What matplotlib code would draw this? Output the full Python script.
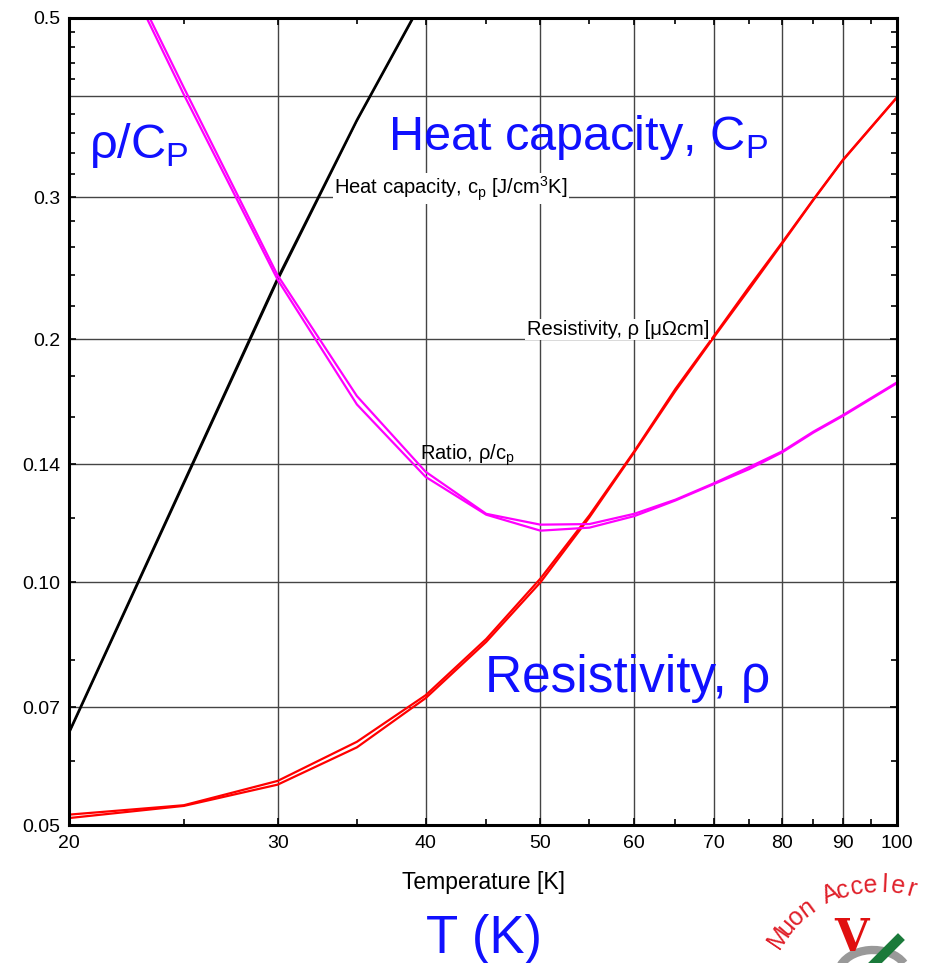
import matplotlib
matplotlib.use("Agg")
import matplotlib.pyplot as plt
from matplotlib.ticker import FixedLocator, NullFormatter
from matplotlib.lines import Line2D
from matplotlib.patches import Arc
import numpy as np

# temperatures [K]
temp = [20, 25, 30, 35, 40, 45, 50, 55, 60, 65, 70, 75, 80, 85, 90, 100]
temp_cp = [20, 25, 30, 35, 40]

# heat capacity c_p [J/cm^3 K]
cp_a = [0.0652, 0.133, 0.238, 0.374, 0.535]
cp_b = [0.0648, 0.132, 0.236, 0.372, 0.532]

# resistivity rho [uOhm cm], two data sets
rho_a = [0.0515, 0.0529, 0.0567, 0.0634, 0.0724, 0.0850, 0.1010, 0.1210,
         0.1452, 0.1735, 0.2015, 0.2320, 0.2636, 0.2980, 0.3335, 0.3990]
rho_b = [0.0510, 0.0528, 0.0561, 0.0624, 0.0718, 0.0843, 0.0999, 0.1203,
         0.1448, 0.1725, 0.2008, 0.2305, 0.2628, 0.2975, 0.3330, 0.3985]

# ratio rho/c_p
ratio_a = [0.80, 0.410, 0.240, 0.170, 0.137, 0.1215, 0.1178, 0.1180,
           0.1215, 0.1265, 0.1325, 0.1388, 0.1452, 0.1536, 0.1610, 0.1768]
ratio_b = [0.79, 0.402, 0.237, 0.166, 0.135, 0.1212, 0.1158, 0.1168,
           0.1207, 0.1262, 0.1322, 0.1380, 0.1448, 0.1532, 0.1606, 0.1764]

xticks = [20, 30, 40, 50, 60, 70, 80, 90, 100]
xminor = [25, 35, 45, 55, 65, 75, 85, 95]
yticks = [0.05, 0.07, 0.10, 0.14, 0.2, 0.3, 0.5]
ylabels = ["0.05", "0.07", "0.10", "0.14", "0.2", "0.3", "0.5"]
ygrid_extra = [0.4]
yminor = [0.06, 0.08, 0.12, 0.16, 0.18, 0.22, 0.24, 0.26, 0.28,
          0.32, 0.34, 0.36, 0.38, 0.42, 0.44, 0.46, 0.48]

plt.rcParams['font.family'] = ['Liberation Sans', 'DejaVu Sans']

fig = plt.figure(figsize=(9.28, 9.63), dpi=100)
ax = fig.add_axes([69 / 928, 1 - 825 / 963, 828 / 928, 807 / 963])
ax.set_xscale('log')
ax.set_yscale('log')
ax.set_xlim(20, 100)
ax.set_ylim(0.05, 0.5)

for v in xticks[1:-1]:
    ax.axvline(v, color='#444444', lw=1.0, zorder=1)
for v in yticks[1:-1] + ygrid_extra:
    ax.axhline(v, color='#444444', lw=1.0, zorder=1)

ax.plot(temp_cp, cp_a, color='black', lw=1.6, zorder=3)
ax.plot(temp_cp, cp_b, color='black', lw=1.0, zorder=3)
ax.plot(temp, rho_a, color='red', lw=1.6, zorder=3)
ax.plot(temp, rho_b, color='red', lw=1.6, zorder=3)
ax.plot(temp, ratio_a, color='magenta', lw=1.6, zorder=3)
ax.plot(temp, ratio_b, color='magenta', lw=1.6, zorder=3)

ax.xaxis.set_major_locator(FixedLocator(xticks))
ax.xaxis.set_minor_locator(FixedLocator(xminor))
ax.set_xticklabels([str(v) for v in xticks])
ax.xaxis.set_minor_formatter(NullFormatter())
ax.yaxis.set_major_locator(FixedLocator(yticks))
ax.yaxis.set_minor_locator(FixedLocator(yminor))
ax.set_yticklabels(ylabels)
ax.yaxis.set_minor_formatter(NullFormatter())
ax.tick_params(which='both', direction='in', top=True, right=True,
               labelsize=14, colors='black')
ax.tick_params(which='major', length=5, width=1.2)
ax.tick_params(which='minor', length=4, width=1.2)
ax.tick_params(axis='x', pad=7)
ax.tick_params(axis='y', pad=6)
for s in ax.spines.values():
    s.set_linewidth(2.2)
    s.set_zorder(5)

ax.set_xlabel("Temperature [K]", fontsize=16.5, labelpad=14)

box = dict(facecolor='white', edgecolor='none', pad=1.0)
ax.text(33.5, 0.3026, "Heat capacity, c$_\\mathregular{p}$ [J/cm$^\\mathregular{3}$K]",
        fontsize=14.5, zorder=4, bbox=box, va='baseline')
ax.text(48.7, 0.2024, "Resistivity, \u03c1 [\u03bc\u03a9cm]",
        fontsize=14.5, zorder=4, bbox=box, va='baseline')
ax.text(39.6, 0.1417, "Ratio, \u03c1/c$_\\mathregular{p}$",
        fontsize=14.5, zorder=4, va='baseline')

blue = '#1010ff'
ax.text(20.8, 0.348, "\u03c1/C$_\\mathregular{P}$", color=blue, fontsize=35,
        va='center', zorder=6)
ax.text(37.2, 0.356, "Heat capacity, C$_\\mathregular{P}$", color=blue, fontsize=35,
        va='center', zorder=6)
ax.text(44.9, 0.0760, "Resistivity, \u03c1", color=blue, fontsize=37,
        va='center', zorder=6)
fig.text(484 / 928, 1 - 939 / 963, "T (K)", color=blue, fontsize=38,
         ha='center', va='center')

# logo, bottom right: arc text, grey arrow, red V and green bar
word = "Muon Acceler"
cx, cy, r = 878, 1005, 120
angles = np.linspace(146, 74, len(word))
for ch, a in zip(word, angles):
    px = cx + r * np.cos(np.radians(a))
    py = cy - r * np.sin(np.radians(a))
    fig.text(px / 928, 1 - py / 963, ch, color='#e0202a', fontsize=18,
             rotation=a - 90, ha='center', va='center')
fig.add_artist(Arc((873 / 928, 1 - 975 / 963), 70 / 928, 50 / 963,
                   theta1=20, theta2=170, color='#999999', lw=6,
                   transform=fig.transFigure))
fig.text(852 / 928, 1 - 938 / 963, "V", color='#e01010', fontsize=32,
         fontweight='bold', fontfamily='DejaVu Serif', ha='center', va='center')
fig.add_artist(Line2D([875 / 928, 898 / 928], [1 - 963 / 963, 1 - 940 / 963],
                      color='#1a7a3a', lw=7, transform=fig.transFigure))

fig.savefig("out.png", dpi=100)
